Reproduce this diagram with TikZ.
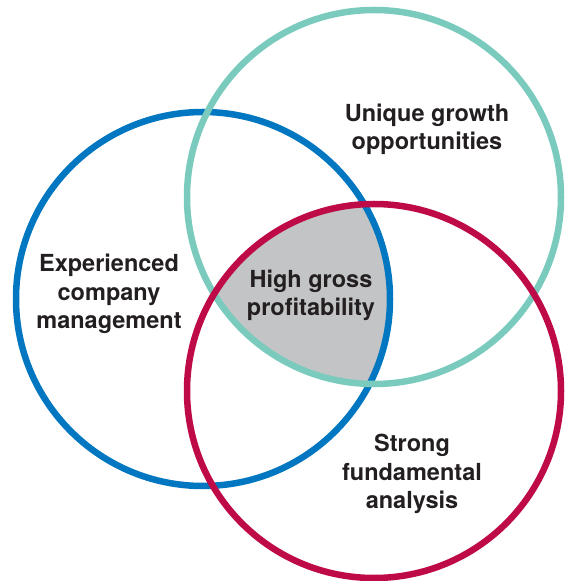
\documentclass[tikz,border=0pt]{standalone}
\usepackage{fontspec}
\setmainfont{TeX Gyre Heros}
\usetikzlibrary{positioning}
\definecolor{mgmtblue}{RGB}{0,119,192}
\definecolor{growthteal}{RGB}{122,203,190}
\definecolor{fundred}{RGB}{190,10,70}
\definecolor{coregray}{RGB}{195,196,198}
\definecolor{txtgray}{RGB}{35,31,32}
\tikzset{ring/.style={line width=6.5pt},
  lbl/.style={font=\bfseries\fontsize{23.5}{28.2}\selectfont,text=txtgray,align=center,inner sep=0pt}}
\begin{document}
\begin{tikzpicture}[x=1pt,y=1pt]
\useasboundingbox (0,0) rectangle (566,581);
\coordinate (mgmt) at (203,282);
\coordinate (growth) at (374,384);
\coordinate (fund) at (374,190);
% shared core
\begin{scope}
  \clip (mgmt) circle[radius=187];
  \clip (growth) circle[radius=187];
  \fill[coregray] (fund) circle[radius=187];
\end{scope}
\draw[ring,mgmtblue] (mgmt) circle[radius=187];
\draw[ring,growthteal] (growth) circle[radius=187];
\draw[ring,fundred] (fund) circle[radius=187];
\node[lbl] (exp) at (109,287) {Experienced\\company\\management};
\node[lbl] (uniq) at (427,452) {Unique growth\\opportunities};
\node[lbl] (core) at (311,286) {High gross\\profitability};
\node[lbl] (strong) at (412,107) {Strong\\fundamental\\analysis};
\end{tikzpicture}
\end{document}
